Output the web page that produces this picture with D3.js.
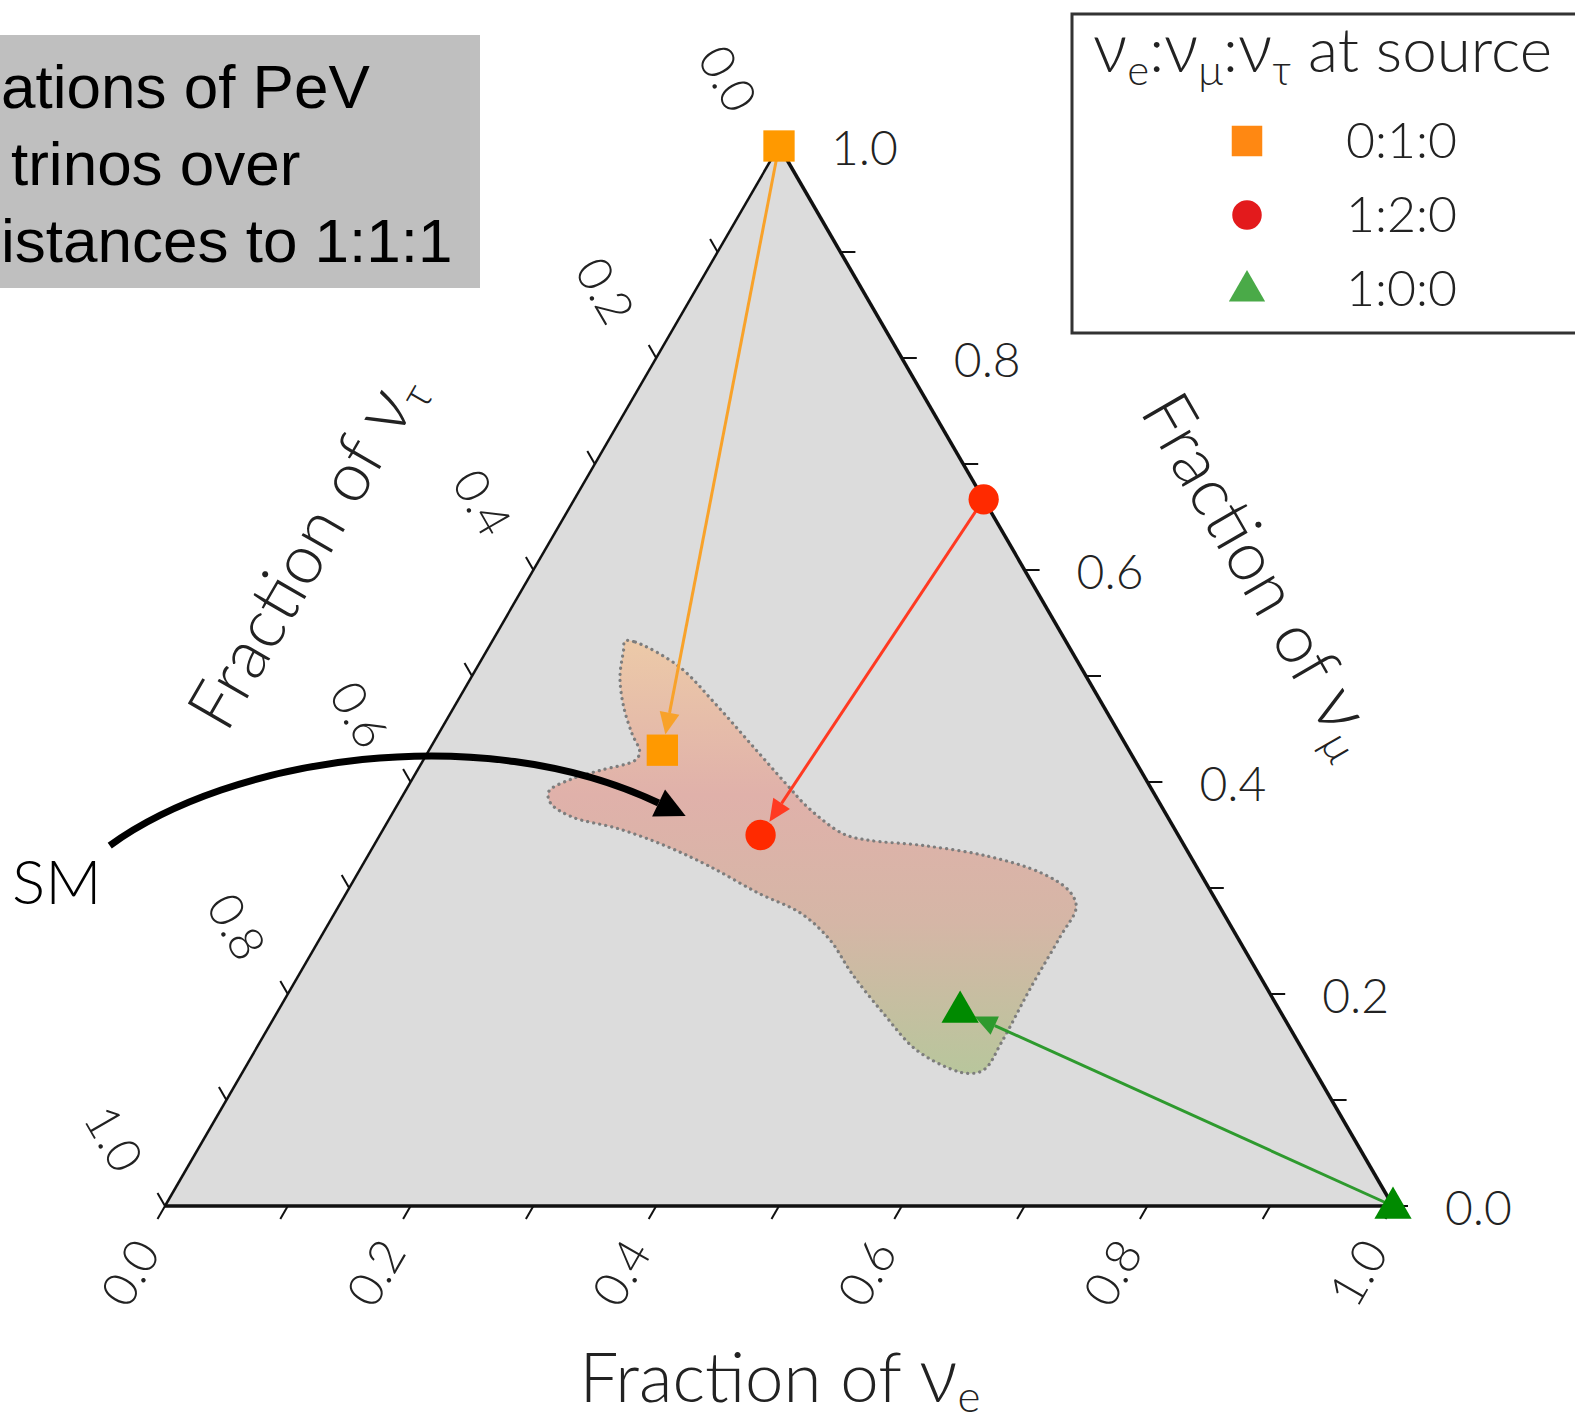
<!DOCTYPE html>
<html>
<head>
<meta charset="utf-8">
<script src="https://cdn.jsdelivr.net/npm/d3@7"></script>
<style>
  body { margin: 0; background: #fff; }
  svg { display: block; }
  text { font-family: Lato, "Open Sans", sans-serif; font-weight: 300; fill: #222; }
</style>
</head>
<body>
<div id="chart"></div>
<script>
// ternary data: every point is (fraction of nu_e, fraction of nu_mu), nu_tau = 1 - e - mu
const tickValues  = [0, 0.1, 0.2, 0.3, 0.4, 0.5, 0.6, 0.7, 0.8, 0.9, 1.0];
const labelValues = [0, 0.2, 0.4, 0.6, 0.8, 1.0];

const sourceNames = ["0:1:0", "1:2:0", "1:0:0"];
const sourceE  = [0, 1/3, 1];
const sourceMu = [1, 2/3, 0];
const earthE   = [0.19, 0.31, 0.555];
const earthMu  = [0.43, 0.35, 0.185];

// outline of the standard-model region
const regionE  = [0.108, 0.117, 0.164, 0.211, 0.259, 0.307, 0.337, 0.377, 0.401, 0.448,
                  0.505, 0.557, 0.588, 0.601, 0.602, 0.602, 0.604, 0.603, 0.593, 0.576,
                  0.537, 0.495, 0.450, 0.416, 0.380, 0.336, 0.282, 0.237, 0.191, 0.148,
                  0.124, 0.117, 0.130, 0.149, 0.173, 0.172, 0.158, 0.138, 0.121, 0.111];
const regionMu = [0.533, 0.532, 0.509, 0.474, 0.436, 0.398, 0.375, 0.351, 0.345, 0.340,
                  0.330, 0.314, 0.297, 0.282, 0.254, 0.206, 0.155, 0.129, 0.125, 0.129,
                  0.148, 0.181, 0.219, 0.251, 0.276, 0.295, 0.321, 0.340, 0.356, 0.367,
                  0.380, 0.391, 0.403, 0.411, 0.421, 0.429, 0.445, 0.471, 0.499, 0.525];

// SM annotation arrow (ternary coords, start lies outside the triangle)
const smFrom = [-0.215, 0.340];
const smTo   = [0.240, 0.368];

const titleLines = ["ations of PeV", "trinos over", "istances to 1:1:1"];

const W = 1575, H = 1427;
const svg = d3.select("#chart").append("svg").attr("width", W).attr("height", H);

const xs = d3.scaleLinear().domain([0, 1]).range([165, 1393]);
const ys = d3.scaleLinear().domain([0, 1]).range([1206, 146]);
const pos = (e, mu) => [xs(e + mu / 2), ys(mu)];

const plotColors   = ["#ff9900", "#ff2a00", "#008a00"];
const arrowColors  = ["#f8a22a", "#ff3a22", "#2e9a2e"];
const legendColors = ["#ff8812", "#e31a1c", "#4aaa48"];
const shapes = [d3.symbolSquare, d3.symbolCircle, d3.symbolTriangle];
const sizes  = [980, 720, 600];

// top-left caption box
svg.append("rect").attr("x", 0).attr("y", 35).attr("width", 480).attr("height", 253).attr("fill", "#bfbfbf");
const capX = [1, 11, 1];
titleLines.forEach((t, i) => {
  svg.append("text").attr("x", capX[i]).attr("y", 108 + i * 77)
    .style("font-family", "'Liberation Sans', Arial, sans-serif").style("font-weight", 400)
    .style("font-size", "62px").style("fill", "#000").text(t);
});

// triangle background
const A = pos(0, 0), B = pos(1, 0), C = pos(0, 1);
svg.append("path").attr("d", d3.line()([A, B, C]) + "Z").attr("fill", "#dcdcdc");

// region gradient
const defs = svg.append("defs");
const grad = defs.append("linearGradient").attr("id", "reg").attr("gradientUnits", "userSpaceOnUse")
  .attr("x1", 0).attr("x2", 0).attr("y1", ys(0.53)).attr("y2", ys(0.125));
[[0, "#ecc9a8"], [0.35, "#e0b1aa"], [0.65, "#d5b6a6"], [1, "#b8c69c"]].forEach(s =>
  grad.append("stop").attr("offset", s[0]).attr("stop-color", s[1]));

const regionPts = regionE.map((e, i) => pos(e, regionMu[i]));
svg.append("path")
  .attr("d", d3.line().curve(d3.curveCatmullRomClosed.alpha(0.5))(regionPts))
  .attr("fill", "url(#reg)")
  .attr("stroke", "#7d7d7d").attr("stroke-width", 3.2)
  .attr("stroke-dasharray", "0.1 6").attr("stroke-linecap", "round");

// edges
svg.append("line").attr("x1", A[0]).attr("y1", A[1]).attr("x2", B[0]).attr("y2", B[1]).attr("stroke", "#111").attr("stroke-width", 3.5);
svg.append("line").attr("x1", B[0]).attr("y1", B[1]).attr("x2", C[0]).attr("y2", C[1]).attr("stroke", "#111").attr("stroke-width", 3.5);
svg.append("line").attr("x1", C[0]).attr("y1", C[1]).attr("x2", A[0]).attr("y2", A[1]).attr("stroke", "#111").attr("stroke-width", 2.5);

// ticks
const L = 15, s3 = Math.sqrt(3) / 2;
const tg = svg.append("g").attr("stroke", "#111").attr("stroke-width", 2);
tickValues.forEach(v => {
  let p = pos(v, 0);
  tg.append("line").attr("x1", p[0]).attr("y1", p[1]).attr("x2", p[0] - 0.5 * L).attr("y2", p[1] + s3 * L);
  p = pos(1 - v, v);
  tg.append("line").attr("x1", p[0]).attr("y1", p[1]).attr("x2", p[0] + L).attr("y2", p[1]);
  p = pos(0, 1 - v);
  tg.append("line").attr("x1", p[0]).attr("y1", p[1]).attr("x2", p[0] - 0.5 * L).attr("y2", p[1] - s3 * L);
});

// tick labels
const fmt = d3.format(".1f");
labelValues.forEach(v => {
  let p = pos(v, 0);
  svg.append("text").attr("transform", `translate(${p[0] - 36},${p[1] + 66}) rotate(-60)`)
    .attr("text-anchor", "middle").attr("dominant-baseline", "central")
    .style("font-size", "48px").text(fmt(v));
  p = pos(1 - v, v);
  svg.append("text").attr("x", p[0] + 52).attr("y", p[1])
    .attr("dominant-baseline", "central").style("font-size", "48px").text(fmt(v));
  p = pos(0, 1 - v);
  svg.append("text").attr("transform", `translate(${p[0] - 50},${p[1] - 68}) rotate(60)`)
    .attr("text-anchor", "middle").attr("dominant-baseline", "central")
    .style("font-size", "48px").text(fmt(v));
});

// axis titles
function axisTitle(tr, sub) {
  const t = svg.append("text").attr("transform", tr).attr("text-anchor", "middle").style("font-size", "69px");
  t.append("tspan").text("Fraction of ");
  t.append("tspan").style("font-size", "76px").text("\u03bd");
  t.append("tspan").attr("dy", 10).style("font-size", "44px").text(sub);
}
axisTitle("translate(780,1402)", "e");
axisTitle("translate(326,562) rotate(-60)", "\u03c4");
axisTitle("translate(1240,586) rotate(60)", "\u03bc");

// flavour arrows and markers
function arrow(p0, p1, color, width, shrink, headL, headW) {
  const dx = p1[0] - p0[0], dy = p1[1] - p0[1], d = Math.hypot(dx, dy);
  const ux = dx / d, uy = dy / d;
  const tip = [p1[0] - ux * shrink, p1[1] - uy * shrink];
  const base = [tip[0] - ux * headL, tip[1] - uy * headL];
  svg.append("line").attr("x1", p0[0]).attr("y1", p0[1]).attr("x2", base[0]).attr("y2", base[1])
    .attr("stroke", color).attr("stroke-width", width);
  svg.append("path").attr("d", d3.line()([tip,
      [base[0] - uy * headW / 2, base[1] + ux * headW / 2],
      [base[0] + uy * headW / 2, base[1] - ux * headW / 2]]) + "Z")
    .attr("fill", color);
}

sourceE.forEach((e, i) => {
  arrow(pos(e, sourceMu[i]), pos(earthE[i], earthMu[i]), arrowColors[i], 3, 16, 22, 20);
});
sourceE.forEach((e, i) => {
  [pos(e, sourceMu[i]), pos(earthE[i], earthMu[i])].forEach(p => {
    svg.append("path").attr("transform", `translate(${p[0]},${p[1] + (i === 2 ? 2 : 0)})`)
      .attr("d", d3.symbol().type(shapes[i]).size(sizes[i])()).attr("fill", plotColors[i]);
  });
});

// SM annotation
const a0 = pos(smFrom[0], smFrom[1]), a1 = pos(smTo[0], smTo[1]);
const c1 = [230, 758], c2 = [480, 718];
const tx = a1[0] - c2[0], ty = a1[1] - c2[1], tl = Math.hypot(tx, ty);
const hb = [a1[0] - tx / tl * 30, a1[1] - ty / tl * 30];
const sm = d3.path();
sm.moveTo(a0[0], a0[1]);
sm.bezierCurveTo(c1[0], c1[1], c2[0], c2[1], hb[0], hb[1]);
svg.append("path").attr("d", sm.toString()).attr("fill", "none").attr("stroke", "#000").attr("stroke-width", 7);
svg.append("path").attr("d", d3.line()([a1,
    [hb[0] - ty / tl * 15, hb[1] + tx / tl * 15],
    [hb[0] + ty / tl * 15, hb[1] - tx / tl * 15]]) + "Z").attr("fill", "#000");
svg.append("text").attr("x", 12).attr("y", 904).style("font-size", "62px").style("fill", "#000").text("SM");

// legend
const lg = svg.append("g");
lg.append("rect").attr("x", 1072).attr("y", 14).attr("width", 560).attr("height", 319)
  .attr("fill", "#fff").attr("stroke", "#333").attr("stroke-width", 3);
const lt = lg.append("text").attr("x", 1093).attr("y", 72);
[["\u03bd", 0, 68], ["e", 13, 42], [":", -13, 62], ["\u03bd", 0, 68], ["\u03bc", 13, 42],
 [":", -13, 62], ["\u03bd", 0, 68], ["\u03c4", 13, 42], [" at source", -13, 62]].forEach(s =>
  lt.append("tspan").attr("dy", s[1]).style("font-size", s[2] + "px").text(s[0]));
sourceNames.forEach((n, i) => {
  const cy = 141 + i * 74;
  lg.append("path").attr("transform", `translate(1247,${cy + (i === 2 ? 2 : 0)})`)
    .attr("d", d3.symbol().type(shapes[i]).size(sizes[i] * 0.95)()).attr("fill", legendColors[i]);
  lg.append("text").attr("x", 1346).attr("y", cy + 17).style("font-size", "50px").text(n);
});
</script>
</body>
</html>
